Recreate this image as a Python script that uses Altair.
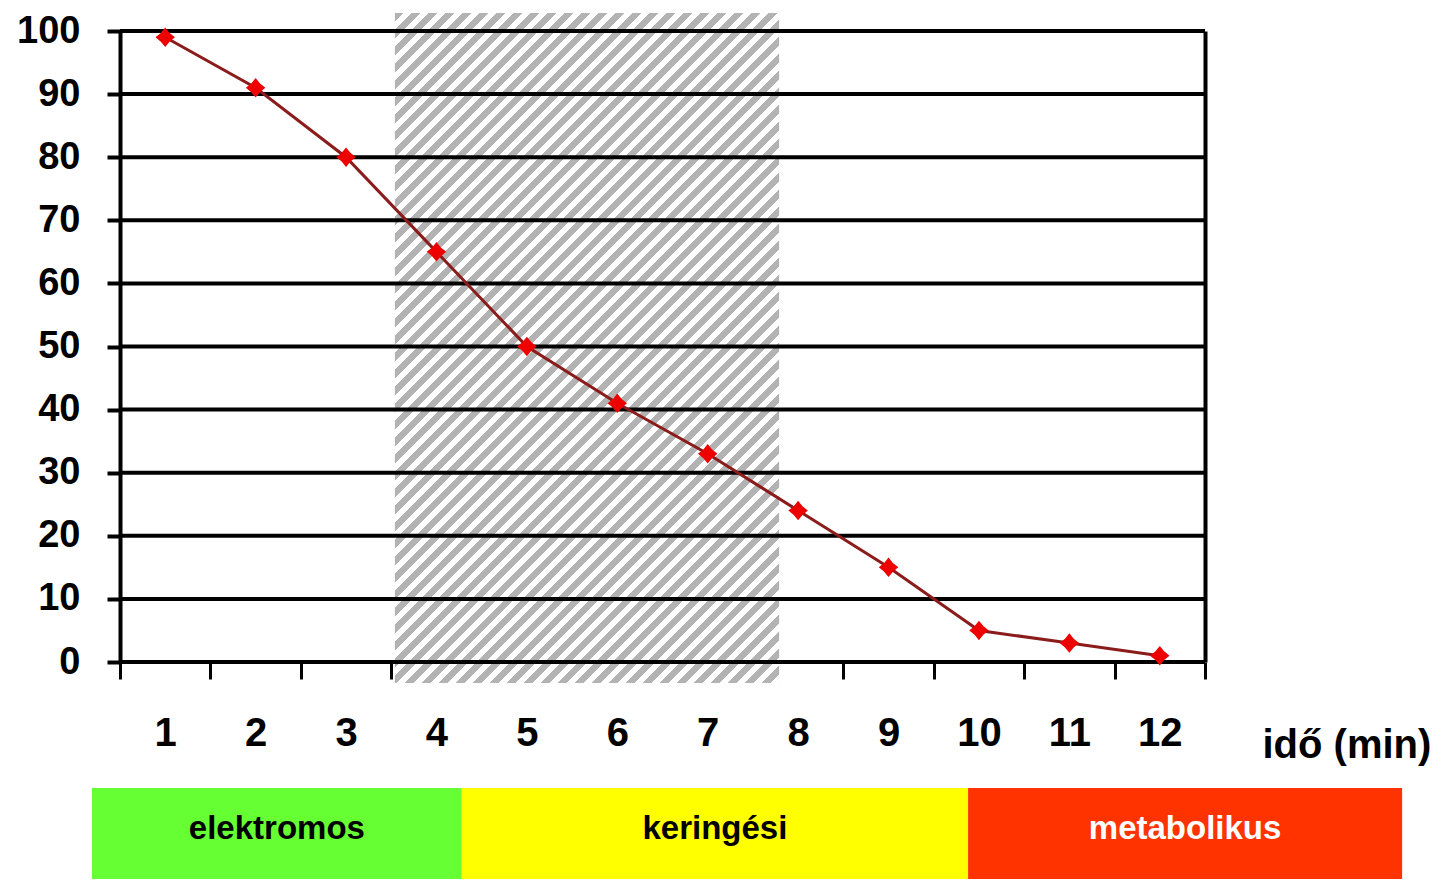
import altair as alt
import pandas as pd

# ---- data ----
minutes = list(range(1, 13))
survival = [99, 91, 80, 65, 50, 41, 33, 24, 15, 5, 3, 1]
y_ticks = list(range(0, 101, 10))
x_edges = [m - 0.5 for m in minutes] + [12.5]

hatch_window = [3.54, 7.79]     # minutes
hatch_span = [-3.33, 102.85]    # percent

phase_names = ["elektromos", "keringési", "metabolikus"]
phase_start = [0.19, 4.28, 9.88]
phase_end = [4.28, 9.88, 14.68]
phase_band = [-19.97, -34.4]
phase_label_level = -26.5

# ---- layout / style ----
W, H = 1085, 631
FONT = "Liberation Sans"
phase_colors = ["#66ff33", "#ffff00", "#ff3300"]

xs = alt.Scale(domain=[0.5, 12.5], nice=False, zero=False)
ys = alt.Scale(domain=[0, 100], nice=False, zero=False)

# hatch pattern via a striped linear gradient (objectBoundingBox units)
px_x = W / 12.0
px_y = H / 100.0
hw = (hatch_window[1] - hatch_window[0]) * px_x
hh = (hatch_span[1] - hatch_span[0]) * px_y
r = hh / hw
L = hw * (1 + r * r)
S = 17.0
f = 0.5
gray, white = "#b3b3b3", "#ffffff"
stops = []
k = 0
while k * S < L:
    a = min(1.0, k * S / L)
    b = min(1.0, (k + f) * S / L)
    c = min(1.0, (k + 1) * S / L)
    stops += [
        {"offset": a, "color": gray},
        {"offset": b, "color": gray},
        {"offset": b, "color": white},
        {"offset": c, "color": white},
    ]
    k += 1
hatch_fill = {"gradient": "linear", "x1": 0, "y1": 0, "x2": 1, "y2": r, "stops": stops}

tick_axis = alt.Axis(
    orient="bottom", values=x_edges, labels=False, ticks=True, tickSize=17,
    tickWidth=3, tickColor="black", domain=False, grid=False, title=None,
)
label_axis = alt.Axis(
    orient="bottom", values=minutes, ticks=False, tickSize=0, domain=False, grid=False,
    labelFont=FONT, labelFontSize=40, labelFontWeight="bold", labelColor="black",
    labelPadding=51, labelAngle=0,
    title="idő (min)", titleFont=FONT, titleFontSize=40, titleFontWeight="bold",
    titleColor="black", titleX=1142, titleY=95, titleAlign="left",
    titleBaseline="alphabetic", titleAngle=0,
)
left_axis = alt.Axis(
    orient="left", values=y_ticks, grid=False, domain=True, domainColor="black",
    domainWidth=4, ticks=True, tickSize=13, tickWidth=4, tickColor="black",
    labelFont=FONT, labelFontSize=38, labelFontWeight="bold", labelColor="black",
    labelPadding=27, title=None,
)
right_axis = alt.Axis(
    orient="right", values=y_ticks, grid=False, domain=True, domainColor="black",
    domainWidth=4, ticks=False, labels=False, title=None,
)

hatch_df = pd.DataFrame({"x0": [hatch_window[0]], "x1": [hatch_window[1]],
                         "y0": [hatch_span[0]], "y1": [hatch_span[1]]})
hatch = alt.Chart(hatch_df).mark_rect(fill=hatch_fill, strokeWidth=0).encode(
    x=alt.X("x0:Q", scale=xs, axis=tick_axis),
    x2="x1:Q",
    y=alt.Y("y0:Q", scale=ys, axis=left_axis),
    y2="y1:Q",
)

grid = alt.Chart(pd.DataFrame({"v": y_ticks})).mark_rule(color="black", strokeWidth=4).encode(
    y=alt.Y("v:Q", scale=ys, axis=right_axis)
)

data = pd.DataFrame({"minute": minutes, "value": survival})
line = alt.Chart(data).mark_line(color="#8b1c1c", strokeWidth=3).encode(
    x=alt.X("minute:Q", scale=xs, axis=label_axis),
    y=alt.Y("value:Q", scale=ys, axis=None),
)
star = "M0,-1L0.45,-0.45L1,0L0.45,0.45L0,1L-0.45,0.45L-1,0L-0.45,-0.45Z"
points = alt.Chart(data).mark_point(shape=star, filled=True, color="#ee0000", opacity=1, size=380).encode(
    x=alt.X("minute:Q", scale=xs, axis=None),
    y=alt.Y("value:Q", scale=ys, axis=None),
)

phase_df = pd.DataFrame({"phase": phase_names, "start": phase_start, "end": phase_end,
                         "top": [phase_band[0]] * 3, "bottom": [phase_band[1]] * 3,
                         "level": [phase_label_level] * 3})
phase_rects = alt.Chart(phase_df).mark_rect(strokeWidth=0).encode(
    x=alt.X("start:Q", scale=xs, axis=None),
    x2="end:Q",
    y=alt.Y("top:Q", scale=ys, axis=None),
    y2="bottom:Q",
    color=alt.Color("phase:N", scale=alt.Scale(domain=phase_names, range=phase_colors), legend=None),
)
phase_text = alt.Chart(phase_df).transform_calculate(
    mid="(datum.start + datum.end) / 2"
).mark_text(font=FONT, fontSize=33, fontWeight="bold", baseline="middle", align="center").encode(
    x=alt.X("mid:Q", scale=xs, axis=None),
    y=alt.Y("level:Q", scale=ys, axis=None),
    text="phase:N",
    color=alt.condition(alt.datum.phase == "metabolikus", alt.value("#ffffff"), alt.value("#000000")),
)

chart = alt.layer(hatch, grid, line, points, phase_rects, phase_text).resolve_axis(
    x="independent", y="independent"
).resolve_scale(color="independent").properties(
    width=W, height=H,
    autosize=alt.AutoSizeParams(type="none"),
    padding={"left": 112, "top": 23, "right": 237, "bottom": 217},
    background="white",
).configure_view(stroke=None)

chart.save("out.html", embed_options={"renderer": "svg", "actions": False})
